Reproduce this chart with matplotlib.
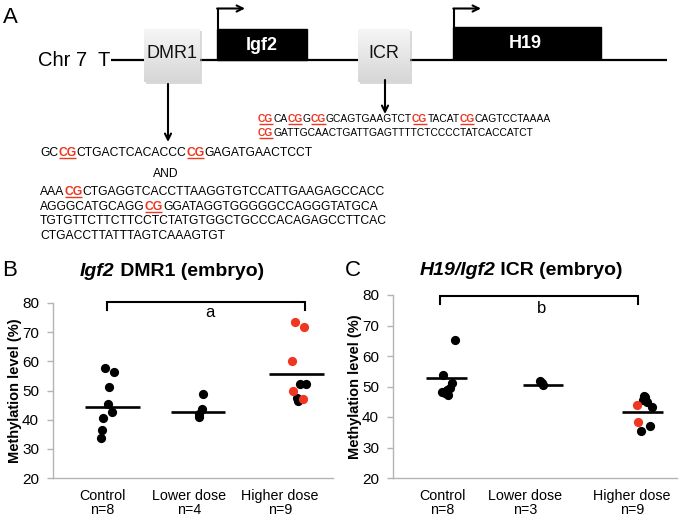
import matplotlib
matplotlib.use('Agg')
import matplotlib.pyplot as plt
import numpy as np
from matplotlib.patches import Rectangle

plt.rcParams['font.family'] = ['Liberation Sans', 'DejaVu Sans']

# ---------------- data ----------------
groups = ['Control', 'Lower dose', 'Higher dose']
n_B = [8, 4, 9]
n_C = [8, 3, 9]

# Panel B: Igf2 DMR1 (embryo)
b_ctrl = [57.6, 56.4, 51.3, 45.4, 42.7, 40.5, 36.5, 33.8]
b_low = [48.8, 43.6, 41.9, 41.0]
b_high_black = [52.1, 52.1, 47.3, 46.4]
b_high_red = [73.6, 71.9, 60.2, 49.8, 47.1]
b_lines = [44.2, 42.7, 55.6]

# Panel C: H19/Igf2 ICR (embryo)
c_ctrl = [65.2, 53.8, 51.0, 48.3, 48.9, 47.2, 47.8, 49.4]
c_low = [51.9, 50.5, 51.1]
c_high_black = [46.7, 45.6, 45.0, 43.2, 37.0, 35.4, 46.9]
c_high_red = [43.9, 38.5]
c_lines = [52.7, 50.5, 41.7]

# horizontal jitter of the dots (offsets from group centre, axes fraction)
jb_ctrl = [-0.025, 0.007, -0.010, -0.016, -0.001, -0.031, -0.037, -0.041]
jb_low = [0.019, 0.013, 0.005, 0.003]
jb_high_black = [0.011, 0.033, -0.001, 0.004]
jb_high_red = [-0.007, 0.025, -0.017, -0.015, 0.021]
jc_ctrl = [0.029, -0.012, 0.018, -0.018, 0.0, 0.006, -0.006, 0.012]
jc_low = [-0.010, 0.001, -0.003]
jc_high_black = [0.007, 0.001, 0.013, 0.031, 0.025, -0.007, 0.005]
jc_high_red = [-0.020, -0.017]

# sequences ([..] = CpG marked in red)
icr_seq = ['[CG]CA[CG]G[CG]GCAGTGAAGTCT[CG]TACAT[CG]CAGTCCTAAAA',
           '[CG]GATTGCAACTGATTGAGTTTTCTCCCCTATCACCATCT']
dmr1_seq_a = ['GC[CG]CTGACTCACACCC[CG]GAGATGAACTCCT']
dmr1_seq_b = ['AAA[CG]CTGAGGTCACCTTAAGGTGTCCATTGAAGAGCCACC',
              'AGGGCATGCAGG[CG]GGATAGGTGGGGGCCAGGGTATGCA',
              'TGTGTTCTTCTTCCTCTATGTGGCTGCCCACAGAGCCTTCAC',
              'CTGACCTTATTTAGTCAAAGTGT']

RED = '#ee3620'
W, H = 681, 521

fig = plt.figure(figsize=(W / 100, H / 100), dpi=100)
ov = fig.add_axes([0, 0, 1, 1])
ov.set_xlim(0, W)
ov.set_ylim(H, 0)
ov.axis('off')
renderer = fig.canvas.get_renderer()


def text_w(s, **kw):
    t = ov.text(0, 0, s, **kw)
    w = t.get_window_extent(renderer).width
    t.remove()
    return w


def adv(s, **kw):
    """pen advance of a string (pixels)."""
    if not s:
        return 0.0
    return text_w(s + 'H', **kw) - text_w('H', **kw)


def draw_runs(x, y, runs, ha='left', **common):
    """runs: list of (string, props, underline). y = baseline (pixels)."""
    starts, advs, kws = [], [], []
    cur = 0.0
    for s, props, ul in runs:
        kw = dict(common)
        kw.update(props)
        a = adv(s, **kw)
        starts.append(cur)
        advs.append(a)
        kws.append(kw)
        cur += a
    total = cur
    x0 = x - total / 2 if ha == 'center' else x
    for (s, props, ul), st, a, kw in zip(runs, starts, advs, kws):
        ov.text(x0 + st, y, s, ha='left', va='baseline', **kw)
        if ul:
            ov.plot([x0 + st + 0.5, x0 + st + a - 0.5], [y + 1.8, y + 1.8],
                    color=kw.get('color', 'black'), lw=1.0,
                    solid_capstyle='butt')
    return total


def seq_runs(s):
    runs = []
    parts = s.replace(']', '[').split('[')
    for i, p in enumerate(parts):
        if not p:
            continue
        if i % 2 == 1:
            runs.append((p, dict(color=RED, fontweight='bold'), True))
        else:
            runs.append((p, dict(color='black'), False))
    return runs


# ---------------- panel A : schematic ----------------
ov.text(10.5, 17.5, 'A', ha='center', va='center', fontsize=16)
ov.plot([111, 667], [60, 60], color='black', lw=1.6, zorder=1,
        solid_capstyle='butt')
ov.text(110, 61, 'Chr 7  T', ha='right', va='center', fontsize=14.5)


def gray_box(x0, y0, x1, y1, label):
    ov.add_patch(Rectangle((x0 + 1.5, y0 + 1.5), x1 - x0, y1 - y0,
                           color='#b5b5b5', alpha=0.5, lw=0, zorder=2))
    g = np.linspace(0.965, 0.84, 64)[:, None] * np.ones((1, 2))
    rgb = np.dstack([g, g, g])
    ov.imshow(rgb, extent=(x0, x1, y1, y0), origin='upper', aspect='auto',
              zorder=3, interpolation='bilinear')
    ov.text((x0 + x1) / 2, 54, label, ha='center', va='center',
            fontsize=13, zorder=4, color='#111111')


gray_box(144, 29, 200, 82, 'DMR1')
gray_box(358, 29, 410, 82, 'ICR')

ov.add_patch(Rectangle((217, 29), 90, 31, color='black', zorder=2))
ov.text(262, 45, 'Igf2', ha='center', va='center', color='white',
        fontsize=13, fontweight='bold', zorder=4)
ov.add_patch(Rectangle((453, 27), 148, 32, color='black', zorder=2))
ov.text(525, 44, 'H19', ha='center', va='center', color='white',
        fontsize=13, fontweight='bold', zorder=4)

arrow_kw = dict(arrowstyle='->', lw=1.5, color='black', shrinkA=0,
                shrinkB=0, mutation_scale=11)
for xs, ytop, xend in [(217.8, 29, 245), (454, 27, 481)]:
    ov.plot([xs, xs], [ytop, 8.5], color='black', lw=1.5,
            solid_capstyle='butt')
    ov.annotate('', xy=(xend, 8.5), xytext=(xs - 0.7, 8.5),
                arrowprops=arrow_kw)
ov.annotate('', xy=(168, 142), xytext=(168, 84), arrowprops=arrow_kw)
ov.annotate('', xy=(385, 114), xytext=(385, 80), arrowprops=arrow_kw)

seq_fs = 8.7
icr_fs = 7.4
for i, s in enumerate(icr_seq):
    draw_runs(258, 122.5 + i * 13.5, seq_runs(s), fontsize=icr_fs)
for s in dmr1_seq_a:
    draw_runs(40, 156, seq_runs(s), fontsize=seq_fs)
ov.text(153, 177, 'AND', ha='left', va='baseline', fontsize=seq_fs)
for i, s in enumerate(dmr1_seq_b):
    draw_runs(40, 195 + i * 14.7, seq_runs(s), fontsize=seq_fs)

# ---------------- panels B and C ----------------
ov.text(9.5, 270.5, 'B', ha='center', va='center', fontsize=16)
ov.text(352.5, 270.5, 'C', ha='center', va='center', fontsize=16)
title_bi = dict(fontweight='bold', fontstyle='italic')
title_b = dict(fontweight='bold')
draw_runs(172, 276.5, [('Igf2', title_bi, False),
                       (' DMR1 (embryo)', title_b, False)],
          ha='center', fontsize=14)
draw_runs(521, 275, [('H19/Igf2', title_bi, False),
                     (' ICR (embryo)', title_b, False)],
          ha='center', fontsize=14)


def px_axes(l, t, r, b):
    return fig.add_axes([l / W, 1 - b / H, (r - l) / W, (b - t) / H])


def draw_panel(ax, blacks, jblacks, reds, jreds, lines, group_x, half_w,
               tick_x, ns, bracket, sig, sig_xy, ylabel_x):
    ax.patch.set_alpha(0)
    ax.set_xlim(0, 1)
    ax.set_ylim(20, 80)
    gx = np.array(group_x)
    ax.hlines(lines, gx - half_w, gx + half_w, color='black', lw=1.9,
              zorder=2)
    for g in range(3):
        if blacks[g]:
            ax.scatter(gx[g] + np.array(jblacks[g]), blacks[g], s=44,
                       color='black', linewidths=0, zorder=3, clip_on=False)
        if reds[g]:
            ax.scatter(gx[g] + np.array(jreds[g]), reds[g], s=44,
                       color=RED, linewidths=0, zorder=4, clip_on=False)
    for side in ['top', 'right']:
        ax.spines[side].set_visible(False)
    for side in ['left', 'bottom']:
        ax.spines[side].set_color('#b4b4b4')
        ax.spines[side].set_linewidth(1.0)
    ax.set_yticks(range(20, 81, 10))
    ax.tick_params(axis='y', length=4, width=1, color='#b4b4b4',
                   labelsize=11, pad=6)
    ax.set_xticks(tick_x, labels=[f'{g}\nn={n}' for g, n in zip(groups, ns)])
    ax.tick_params(axis='x', length=0, labelsize=10.3, pad=8)
    for t in ax.get_xticklabels():
        t.set_linespacing(0.95)
    ax.set_ylabel('Methylation level (%)', fontsize=10.5, fontweight='bold')
    ax.yaxis.set_label_coords(ylabel_x, 0.5)
    x0, x1, ylo, yhi = bracket
    ax.plot([x0, x0, x1, x1], [ylo, yhi, yhi, ylo], color='black', lw=1.5,
            clip_on=False, solid_joinstyle='miter')
    ax.text(sig_xy[0], sig_xy[1], sig, ha='center', va='center', fontsize=12)


axB = px_axes(53, 303, 333, 478)
draw_panel(axB, [b_ctrl, b_low, b_high_black], [jb_ctrl, jb_low, jb_high_black],
           [[], [], b_high_red], [[], [], jb_high_red], b_lines,
           [0.211, 0.518, 0.871], 0.098, [0.175, 0.486, 0.811], n_B,
           (0.193, 0.900, 77.6, 80.5), 'a', (0.561, 76.6), -0.111)

axC = px_axes(393, 295, 677, 478)
draw_panel(axC, [c_ctrl, c_low, c_high_black], [jc_ctrl, jc_low, jc_high_black],
           [[], [], c_high_red], [[], [], jc_high_red], c_lines,
           [0.189, 0.528, 0.880], 0.072, [0.173, 0.465, 0.842], n_C,
           (0.165, 0.863, 76.9, 79.7), 'b', (0.524, 75.7), -0.109)

ov.set_xlim(0, W)
ov.set_ylim(H, 0)
fig.savefig('out.png', dpi=100)
